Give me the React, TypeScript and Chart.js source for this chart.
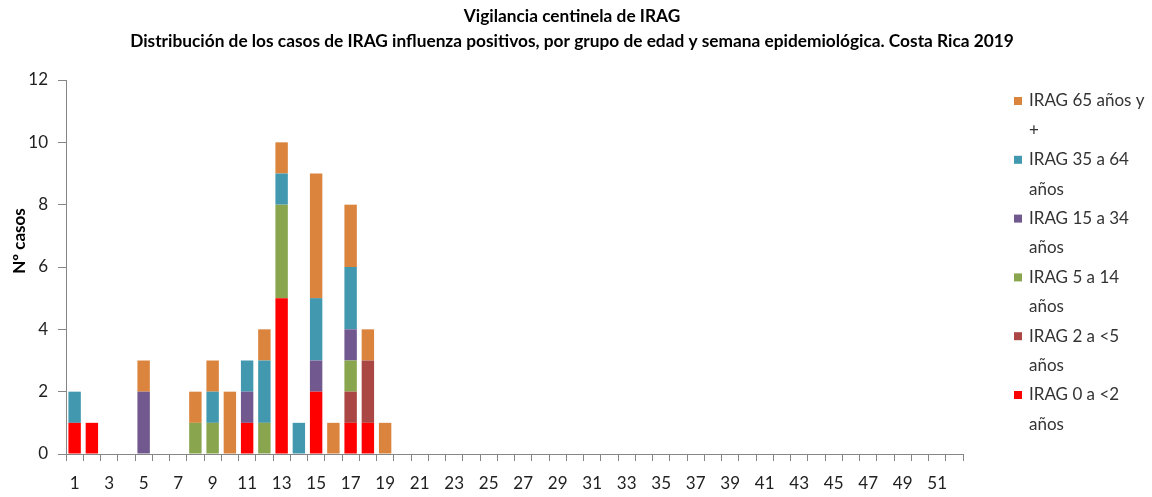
import { useEffect, useRef } from "react";
import { Chart, registerables } from "chart.js";

Chart.register(...registerables);

const titleLines = [
  "Vigilancia centinela de IRAG",
  "Distribución de los casos de IRAG influenza positivos, por grupo de edad y semana epidemiológica. Costa Rica 2019",
];
const yAxisTitle = "Nº casos";

const weeks = [
  "1", "2", "3", "4", "5", "6", "7", "8", "9", "10",
  "11", "12", "13", "14", "15", "16", "17", "18", "19", "20",
  "21", "22", "23", "24", "25", "26", "27", "28", "29", "30",
  "31", "32", "33", "34", "35", "36", "37", "38", "39", "40",
  "41", "42", "43", "44", "45", "46", "47", "48", "49", "50",
  "51", "52",
];

const seriesNames = [
  "IRAG 0 a <2 años",
  "IRAG 2 a <5 años",
  "IRAG 5 a 14 años",
  "IRAG 15 a 34 años",
  "IRAG 35 a 64 años",
  "IRAG 65 años y +",
];
const seriesColors = ["#FF0000", "#AA4643", "#89A54E", "#71588F", "#4198AF", "#DB843D"];

//                weeks 1..19                                          weeks 20..52
const age0to2 =   [1,1,0,0,0,0,0,0,0,0,1,0,5,0,2,0,1,1,0, 0,0,0,0,0,0,0,0,0,0,0,0,0,0,0,0,0,0,0,0,0,0,0,0,0,0,0,0,0,0,0,0,0];
const age2to5 =   [0,0,0,0,0,0,0,0,0,0,0,0,0,0,0,0,1,2,0, 0,0,0,0,0,0,0,0,0,0,0,0,0,0,0,0,0,0,0,0,0,0,0,0,0,0,0,0,0,0,0,0,0];
const age5to14 =  [0,0,0,0,0,0,0,1,1,0,0,1,3,0,0,0,1,0,0, 0,0,0,0,0,0,0,0,0,0,0,0,0,0,0,0,0,0,0,0,0,0,0,0,0,0,0,0,0,0,0,0,0];
const age15to34 = [0,0,0,0,2,0,0,0,0,0,1,0,0,0,1,0,1,0,0, 0,0,0,0,0,0,0,0,0,0,0,0,0,0,0,0,0,0,0,0,0,0,0,0,0,0,0,0,0,0,0,0,0];
const age35to64 = [1,0,0,0,0,0,0,0,1,0,1,2,1,1,2,0,2,0,0, 0,0,0,0,0,0,0,0,0,0,0,0,0,0,0,0,0,0,0,0,0,0,0,0,0,0,0,0,0,0,0,0,0];
const age65plus = [0,0,0,0,1,0,0,1,1,2,0,1,1,0,4,1,2,1,1, 0,0,0,0,0,0,0,0,0,0,0,0,0,0,0,0,0,0,0,0,0,0,0,0,0,0,0,0,0,0,0,0,0];

const seriesValues = [age0to2, age2to5, age5to14, age15to34, age35to64, age65plus];

const FONT = "Lato, 'Open Sans', sans-serif";

export default function App() {
  const ref = useRef<HTMLCanvasElement>(null);

  useEffect(() => {
    if (!ref.current) return;

    const decorations = {
      id: "decorations",
      afterDraw(chart: any) {
        const ctx = chart.ctx as CanvasRenderingContext2D;
        const area = chart.chartArea;
        ctx.save();

        // Titles, centred over the whole picture
        ctx.fillStyle = "#000000";
        ctx.textAlign = "center";
        ctx.textBaseline = "middle";
        ctx.font = `bold 17.3px ${FONT}`;
        ctx.fillText(titleLines[0], 572, 16);
        ctx.fillText(titleLines[1], 572, 41);

        // Y axis title
        ctx.save();
        ctx.translate(20, 241);
        ctx.rotate(-Math.PI / 2);
        ctx.font = `bold 17px ${FONT}`;
        ctx.fillText(yAxisTitle, 0, 0);
        ctx.restore();

        // Wrapped legend
        ctx.font = `17px ${FONT}`;
        ctx.textAlign = "left";
        const maxW = 120;
        const boxX = area.right + 51;
        const textX = area.right + 66;
        const lineH = 29.4;
        let y = 101;
        const ds = chart.data.datasets;
        for (let i = ds.length - 1; i >= 0; i--) {
          const words = String(ds[i].label).split(" ");
          const lines: string[] = [];
          let cur = "";
          for (const w of words) {
            const t = cur ? cur + " " + w : w;
            if (cur && ctx.measureText(t).width > maxW) {
              lines.push(cur);
              cur = w;
            } else cur = t;
          }
          if (cur) lines.push(cur);
          ctx.fillStyle = ds[i].backgroundColor;
          ctx.fillRect(boxX, y - 4, 8, 8);
          ctx.fillStyle = "#333333";
          lines.forEach((ln, k) => ctx.fillText(ln, textX, y + k * lineH));
          y += lineH * 2;
        }
        ctx.restore();
      },
    };

    const chart = new Chart(ref.current, {
      type: "bar",
      data: {
        labels: weeks,
        datasets: seriesNames.map((name, i) => ({
          label: name,
          data: seriesValues[i],
          backgroundColor: seriesColors[i],
          borderWidth: 0,
          categoryPercentage: 1,
          barPercentage: 0.72,
        })),
      },
      options: {
        responsive: false,
        animation: false,
        layout: { padding: { left: 0, right: 189, top: 80, bottom: 0 } },
        plugins: {
          legend: { display: false },
          tooltip: { enabled: false },
          title: { display: false },
        },
        scales: {
          x: {
            stacked: true,
            afterFit(scale: any) {
              scale.height = 43;
            },
            grid: {
              display: true,
              offset: true,
              drawOnChartArea: false,
              drawTicks: true,
              tickLength: 7,
              color: "#868686",
            },
            border: { display: true, color: "#868686", width: 1 },
            ticks: {
              autoSkip: false,
              maxRotation: 0,
              padding: 12,
              color: "#222222",
              font: { family: FONT, size: 17 },
              callback: (_v: any, idx: number) => (idx % 2 === 0 ? weeks[idx] : ""),
            },
          },
          y: {
            stacked: true,
            min: 0,
            max: 12,
            afterFit(scale: any) {
              scale.width = 66;
            },
            grid: {
              display: true,
              drawOnChartArea: false,
              drawTicks: true,
              tickLength: 8,
              color: "#868686",
            },
            border: { display: true, color: "#868686", width: 1 },
            ticks: {
              stepSize: 2,
              padding: 10,
              color: "#222222",
              font: { family: FONT, size: 17 },
            },
          },
        },
      },
      plugins: [decorations],
    } as any);

    return () => chart.destroy();
  }, []);

  return (
    <div style={{ position: "fixed", left: 0, top: 0, width: 1152, height: 497, background: "#ffffff" }}>
      <canvas ref={ref} width={1152} height={497} />
    </div>
  );
}
